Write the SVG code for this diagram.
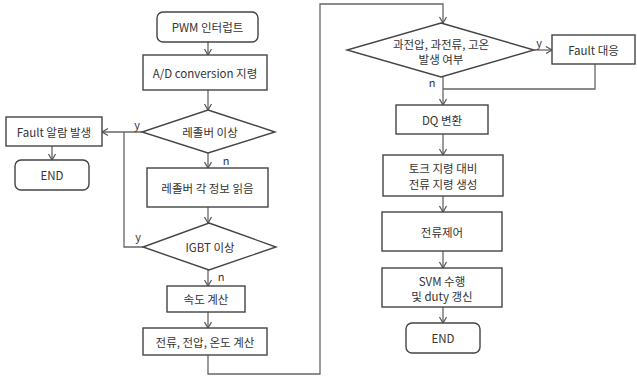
<svg xmlns="http://www.w3.org/2000/svg" width="637" height="376" viewBox="0 0 637 376">
<style>
.b{fill:#fff;stroke:#444;stroke-width:1.4}
.c{fill:none;stroke:#666;stroke-width:1.3}
text{font-family:"Noto Sans CJK KR","Noto Sans",sans-serif;font-size:11.5px;fill:#333;text-anchor:middle;dominant-baseline:central}
.l{font-size:11px}
</style>
<defs>
<marker id="a" markerWidth="10" markerHeight="10" refX="8" refY="5" orient="auto" markerUnits="userSpaceOnUse">
<polyline points="2,1.5 8,5 2,8.5" fill="none" stroke="#555" stroke-width="1.2"/>
</marker>
</defs>
<rect width="637" height="376" fill="#fff"/>
<g id="connectors">
<line class="c" x1="208" y1="42" x2="208" y2="55" marker-end="url(#a)"/>
<line class="c" x1="208" y1="90" x2="208" y2="110" marker-end="url(#a)"/>
<line class="c" x1="142" y1="132" x2="102" y2="132" marker-end="url(#a)"/>
<line class="c" x1="52" y1="146" x2="52" y2="160" marker-end="url(#a)"/>
<line class="c" x1="208" y1="153" x2="208" y2="168" marker-end="url(#a)"/>
<polyline class="c" points="143,247 124,247 124,132"/>
<line class="c" x1="208" y1="207" x2="208" y2="223" marker-end="url(#a)"/>
<line class="c" x1="208" y1="270" x2="208" y2="286" marker-end="url(#a)"/>
<line class="c" x1="208" y1="312" x2="208" y2="328" marker-end="url(#a)"/>
<polyline class="c" points="208,355 208,374 320,374 320,4 443,4 443,23" marker-end="url(#a)"/>
<line class="c" x1="534" y1="50" x2="552" y2="50" marker-end="url(#a)"/>
<polyline class="c" points="595,64 595,89 443,89"/>
<line class="c" x1="443" y1="77" x2="443" y2="105" marker-end="url(#a)"/>
<line class="c" x1="443" y1="134" x2="443" y2="155" marker-end="url(#a)"/>
<line class="c" x1="443" y1="196" x2="443" y2="212" marker-end="url(#a)"/>
<line class="c" x1="443" y1="251" x2="443" y2="268" marker-end="url(#a)"/>
<line class="c" x1="443" y1="307" x2="443" y2="323" marker-end="url(#a)"/>
<text class="l" x="137" y="124">y</text>
<text class="l" x="226" y="160">n</text>
<text class="l" x="138" y="236">y</text>
<text class="l" x="221" y="276">n</text>
<text class="l" x="539" y="42">y</text>
<text class="l" x="432" y="82">n</text>
</g>
<g id="pwm"><rect class="b" x="157" y="12" width="101" height="30" rx="6"/><text x="207.5" y="27">PWM 인터럽트</text></g>
<g id="ad"><rect class="b" x="143" y="55" width="124" height="35"/><text x="205" y="72.5">A/D conversion 지령</text></g>
<g id="resolverCheck"><polygon class="b" points="208,110 275,132 208,153 142,132"/><text x="210" y="132">레졸버 이상</text></g>
<g id="faultAlarm"><rect class="b" x="6" y="117" width="96" height="29"/><text x="54" y="131.5">Fault 알람 발생</text></g>
<g id="end1"><rect class="b" x="15" y="160" width="74" height="30" rx="6"/><text x="52" y="175">END</text></g>
<g id="resolverRead"><rect class="b" x="147" y="168" width="121" height="39"/><text x="207.5" y="187.5">레졸버 각 정보 읽음</text></g>
<g id="igbt"><polygon class="b" points="209,223 276,247 209,270 143,247"/><text x="210" y="247">IGBT 이상</text></g>
<g id="speed"><rect class="b" x="167" y="286" width="78" height="26"/><text x="206" y="299">속도 계산</text></g>
<g id="calc"><rect class="b" x="143" y="328" width="124" height="27"/><text x="205" y="341.5">전류, 전압, 온도 계산</text></g>
<g id="faultCheck"><polygon class="b" points="441,23 534,50 441,77 347,50"/><text x="441" y="43.5"><tspan x="441" y="43.5">과전압, 과전류, 고온</tspan><tspan x="441" y="58.5">발생 여부</tspan></text></g>
<g id="faultResp"><rect class="b" x="552" y="35" width="83" height="29"/><text x="593.5" y="49.5">Fault 대응</text></g>
<g id="dq"><rect class="b" x="396" y="105" width="92" height="29"/><text x="442" y="119.5">DQ 변환</text></g>
<g id="torque"><rect class="b" x="383" y="155" width="120" height="41"/><text x="443" y="168"><tspan x="443" y="168">토크 지령 대비</tspan><tspan x="443" y="184">전류 지령 생성</tspan></text></g>
<g id="current"><rect class="b" x="382" y="212" width="120" height="39"/><text x="442" y="231.5">전류제어</text></g>
<g id="svm"><rect class="b" x="382" y="268" width="120" height="39"/><text x="442" y="281"><tspan x="442" y="281">SVM 수행</tspan><tspan x="442" y="295.5">및 duty 갱신</tspan></text></g>
<g id="end2"><rect class="b" x="406" y="323" width="74" height="30" rx="6"/><text x="443" y="338">END</text></g>
</svg>
